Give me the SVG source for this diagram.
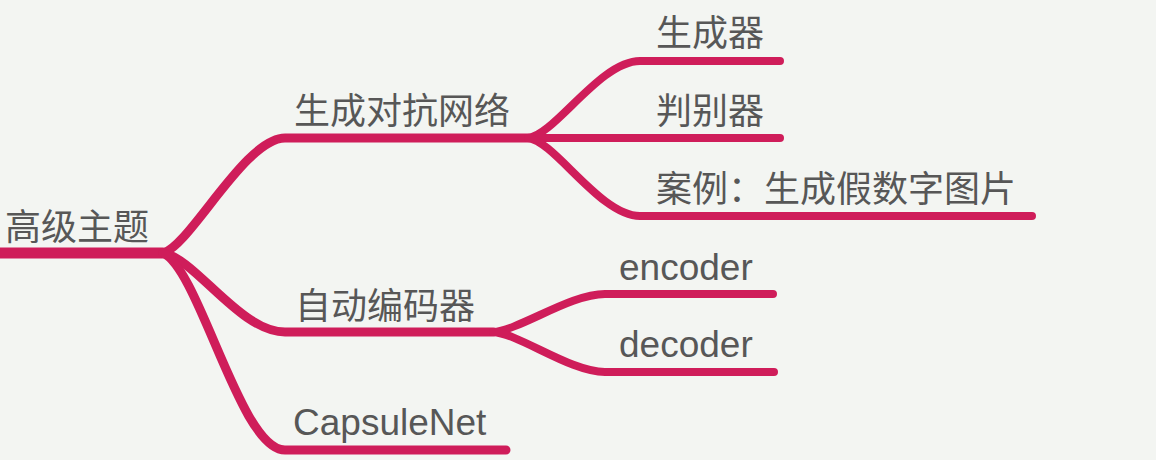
<svg xmlns="http://www.w3.org/2000/svg" width="1156" height="460" viewBox="0 0 1156 460">
  <style>
    .bg { fill: #f3f5f2; }
    .ln { fill: none; stroke: #cf1d5a; stroke-linecap: round; stroke-linejoin: round; }
    .root { stroke-width: 11; }
    .br { stroke-width: 9; }
    .sub { stroke-width: 8; }
    .t { font-family: "Liberation Sans", "Noto Sans CJK SC", sans-serif; font-size: 36px; fill: #575757; }
    .lat { font-size: 37px; }
  </style>
  <rect class="bg" x="0" y="0" width="1156" height="460"/>
  <g id="connectors">
    <path class="ln root" d="M-10,253 H163"/>
    <path class="ln br" d="M163,253 C190,246 245,138 285,138 H528"/>
    <path class="ln br" d="M163,253 C195,258 240,332 285,332 H493"/>
    <path class="ln br" d="M163,253 C200,270 240,450 285,450 H506"/>
    <path class="ln sub" d="M528,138 C555,135 600,61 640,61 H780"/>
    <path class="ln sub" d="M528,138 H780"/>
    <path class="ln sub" d="M528,138 C555,141 600,216 640,216 H1032"/>
    <path class="ln sub" d="M493,332 C520,330 570,294 605,294 H773"/>
    <path class="ln sub" d="M493,332 C520,334 570,372 605,372 H774"/>
  </g>
  <g id="root"><text class="t" x="5" y="240">高级主题</text></g>
  <g id="gan"><text class="t" x="294" y="124">生成对抗网络</text></g>
  <g id="generator"><text class="t" x="656" y="46">生成器</text></g>
  <g id="discriminator"><text class="t" x="656" y="124">判别器</text></g>
  <g id="example"><text class="t" x="656" y="202">案例：<tspan x="764">生成假数字图片</tspan></text></g>
  <g id="autoencoder"><text class="t" x="295" y="319">自动编码器</text></g>
  <g id="encoder"><text class="t lat" x="619" y="280">encoder</text></g>
  <g id="decoder"><text class="t lat" x="619" y="357">decoder</text></g>
  <g id="capsnet"><text class="t lat" x="293" y="435">CapsuleNet</text></g>
</svg>
